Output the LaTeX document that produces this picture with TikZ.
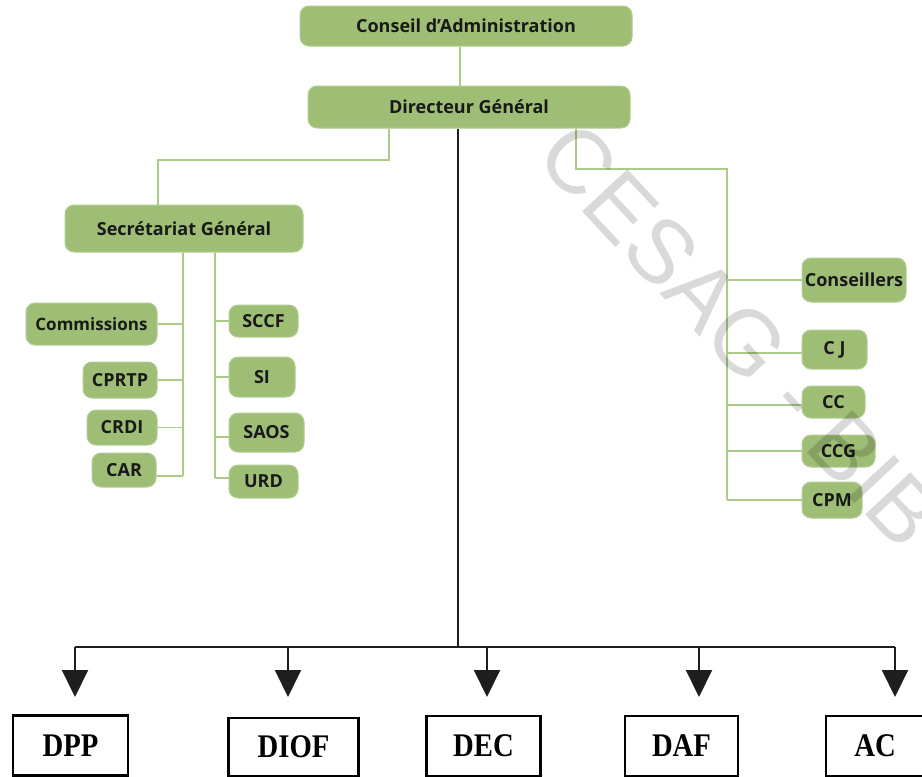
\documentclass[tikz,border=0pt]{standalone}
\usepackage{fontspec}
\usetikzlibrary{arrows.meta}
\newfontfamily\boxfont{Open Sans}
\newfontfamily\wmfont{Liberation Sans}
\newfontfamily\dirfont{Liberation Serif Bold}[FakeStretch=0.87]
\definecolor{gfill}{RGB}{158,189,117}
\definecolor{gedge}{RGB}{178,205,145}
\definecolor{glinec}{RGB}{170,202,136}
\definecolor{kcol}{RGB}{30,30,30}
\begin{document}
\begin{tikzpicture}[x=1pt,y=-1pt,
  gbox/.style={draw=gedge, fill=gfill, line width=1pt, rounded corners=9pt, inner sep=0pt,
    font=\boxfont\bfseries\fontsize{18}{20}\selectfont, text=black!90},
  gline/.style={draw=glinec, line width=1.6pt},
  kline/.style={draw=kcol, line width=2pt},
  karrow/.style={kline, -{Triangle[width=26pt,length=27pt]}},
  dbox/.style={draw=black, line width=2.2pt, fill=white, inner sep=0pt,
    font=\dirfont\fontsize{33}{36}\selectfont},
  wmark/.style={font=\wmfont\fontsize{90}{90}\selectfont, text=black, text opacity=0.15, rotate=-47}
]
\useasboundingbox (0,0) rectangle (922,777);
\clip (0,0) rectangle (922,777);
\fill[white] (0,0) rectangle (922,777);

% top
\node[gbox, minimum width=332pt, minimum height=40pt] (ca) at (466,26) {Conseil d’Administration};
\node[gbox, minimum width=322pt, minimum height=42pt] (dg) at (469,107) {Directeur Général};
\node[gbox, minimum width=238pt, minimum height=47pt] (sg) at (184,228.5) {Secrétariat Général};

% left group
\node[gbox, minimum width=131pt, minimum height=42pt, font=\boxfont\bfseries\fontsize{17}{19}\selectfont] (com) at (91.5,324) {Commissions};
\node[gbox, minimum width=74pt, minimum height=36pt] (cprtp) at (120,380) {CPRTP};
\node[gbox, minimum width=70pt, minimum height=35pt] (crdi) at (122,427.5) {CRDI};
\node[gbox, minimum width=64pt, minimum height=34pt] (car) at (124,470) {CAR};
\node[gbox, minimum width=69pt, minimum height=32pt] (sccf) at (263.5,321) {SCCF};
\node[gbox, minimum width=66pt, minimum height=40pt] (si) at (262,377) {SI};
\node[gbox, minimum width=75pt, minimum height=39pt] (saos) at (266.5,432.5) {SAOS};
\node[gbox, minimum width=69pt, minimum height=33pt] (urd) at (263.5,481.5) {URD};

% right group
\node[gbox, minimum width=104pt, minimum height=44pt] (cons) at (854,280) {Conseillers};
\node[gbox, minimum width=65pt, minimum height=39pt] (cj) at (834.5,349.5) {C J};
\node[gbox, minimum width=63pt, minimum height=32pt] (cc) at (833.5,402) {CC};
\node[gbox, minimum width=73pt, minimum height=32pt] (ccg) at (838.5,451) {CCG};
\node[gbox, minimum width=60pt, minimum height=36pt] (cpm) at (832,500) {CPM};

% directorates
\node[dbox, minimum width=115pt, minimum height=60pt] (dpp) at (70.5,745.5) {DPP};
\node[dbox, minimum width=130pt, minimum height=58pt] (diof) at (293.5,747) {DIOF};
\node[dbox, minimum width=114pt, minimum height=60pt] (dec) at (483.5,746) {DEC};
\node[dbox, minimum width=113pt, minimum height=60pt] (daf) at (681.5,746) {DAF};
\node[dbox, minimum width=98pt, minimum height=60pt] (ac) at (875,746) {AC};

% coordinates
\coordinate (cax) at (460,0);
\coordinate (sgj) at (389,160);
\coordinate (sgx) at (158,0);
\coordinate (lv) at (183,0);
\coordinate (rv) at (215,0);
\coordinate (rtop) at (576,169);
\coordinate (rx) at (727,0);
\coordinate (kj) at (458,647);
\coordinate (t1) at (75,697);
\coordinate (t2) at (288,697);
\coordinate (t3) at (487,697);
\coordinate (t4) at (699,697);
\coordinate (t5) at (895,697);

% green connectors
\draw[gline] (ca.south -| cax) -- (dg.north -| cax);
\draw[gline] (dg.south -| sgj) -- (sgj) -| (sg.north -| sgx);
\draw[gline] (sg.south -| lv) -- ([yshift=-6pt]car.east -| lv);
\draw[gline] (sg.south -| rv) -- ([yshift=3.5pt]urd.west -| rv);
\draw[gline] (com.east) -- (com.east -| lv);
\draw[gline] (cprtp.east) -- (cprtp.east -| lv);
\draw[gline] (crdi.east) -- (crdi.east -| lv);
\draw[gline] ([yshift=-6pt]car.east) -- ([yshift=-6pt]car.east -| lv);
\draw[gline] (sccf.west) -- (sccf.west -| rv);
\draw[gline] (si.west) -- (si.west -| rv);
\draw[gline] ([yshift=-4.5pt]saos.west) -- ([yshift=-4.5pt]saos.west -| rv);
\draw[gline] ([yshift=3.5pt]urd.west) -- ([yshift=3.5pt]urd.west -| rv);
\draw[gline] (dg.south -| rtop) -- (rtop) -| (cpm.west -| rx);
\draw[gline] (cons.west) -- (cons.west -| rx);
\draw[gline] ([yshift=-3.5pt]cj.west) -- ([yshift=-3.5pt]cj.west -| rx);
\draw[gline] ([yshift=-3pt]cc.west) -- ([yshift=-3pt]cc.west -| rx);
\draw[gline] (ccg.west) -- (ccg.west -| rx);
\draw[gline] (cpm.west) -- (cpm.west -| rx);

% black connectors
\draw[kline] (dg.south -| kj) -- (kj);
\draw[kline] (t1 |- kj) -- (t5 |- kj);
\draw[karrow] (t1 |- kj) -- (t1);
\draw[karrow] (t2 |- kj) -- (t2);
\draw[karrow] (t3 |- kj) -- (t3);
\draw[karrow] (t4 |- kj) -- (t4);
\draw[karrow] (t5 |- kj) -- (t5);

% watermark
\node[wmark] (wm) at (740,335) {CESAG - BIB};
\end{tikzpicture}
\end{document}
